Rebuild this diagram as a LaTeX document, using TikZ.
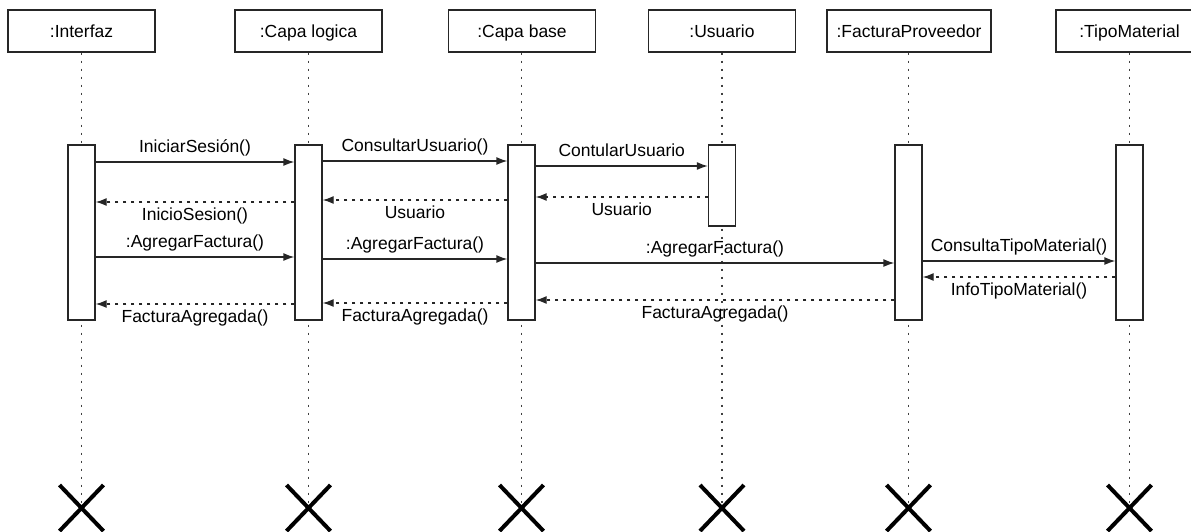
\documentclass[tikz,border=0pt]{standalone}
\usepackage{fontspec}
\setmainfont{Liberation Sans}
\usetikzlibrary{arrows.meta,shapes.misc}

\tikzset{
  every node/.style={font=\fontsize{17.5}{21}\selectfont},
  headbox/.style={draw=black!85, line width=1.3pt, fill=white, minimum width=147pt, minimum height=42pt, inner sep=0pt, text height=12.5pt, text depth=0pt},
  actbox/.style={draw=black!85, line width=1.3pt, fill=white, minimum width=27pt, inner sep=0pt},
  lifeline/.style={draw=black!75, line width=1.2pt, dash pattern=on 2pt off 6pt},
  endmark/.style={draw=black, cross out, line width=4pt, minimum width=40pt, minimum height=42pt, inner sep=0pt},
  msg/.style={draw=black!85, line width=1.3pt, -{Latex[length=11pt,width=8pt]}},
  reply/.style={draw=black!85, line width=1.3pt, dash pattern=on 3pt off 5pt, -{Latex[length=11pt,width=8pt]}},
  lbl/.style={inner sep=0pt, text height=12.5pt, text depth=0pt},
  lblup/.style={lbl, above=9pt},
  lbldown/.style={lbl, below=5pt}
}

\begin{document}
\begin{tikzpicture}[x=1pt,y=-1pt]
  \useasboundingbox (0,0) rectangle (1191,531);

  % object heads
  \node[headbox] (ih) at (81.5,31)  {:Interfaz};
  \node[headbox] (lh) at (308.5,31) {:Capa logica};
  \node[headbox] (bh) at (522,31)   {:Capa base};
  \node[headbox] (uh) at (722,31)   {:Usuario};
  \node[headbox, minimum width=164pt] (fh) at (909,31) {:FacturaProveedor};
  \node[headbox] (th) at (1129.5,31) {:TipoMaterial};

  % destruction marks
  \node[endmark] (ix) at (81.5,508)  {};
  \node[endmark] (lx) at (308.5,508) {};
  \node[endmark] (bx) at (521.5,508) {};
  \node[endmark] (ux) at (722,508)   {};
  \node[endmark] (fx) at (908.5,508) {};
  \node[endmark] (tx) at (1129.5,508) {};

  % lifelines
  \draw[lifeline] (ix.center |- ih.south) -- (ix.center);
  \draw[lifeline] (lx.center |- lh.south) -- (lx.center);
  \draw[lifeline] (bx.center |- bh.south) -- (bx.center);
  \draw[lifeline] (ux.center |- uh.south) -- (ux.center);
  \draw[lifeline] (fx.center |- fh.south) -- (fx.center);
  \draw[lifeline] (tx.center |- th.south) -- (tx.center);

  % activations
  \node[actbox, minimum height=175pt] (ia) at (81.5,232.5)  {};
  \node[actbox, minimum height=175pt] (la) at (308.5,232.5) {};
  \node[actbox, minimum height=175pt] (ba) at (521.5,232.5) {};
  \node[actbox, minimum height=81pt]  (ua) at (722,185.5)   {};
  \node[actbox, minimum height=175pt] (fa) at (908.5,232.5) {};
  \node[actbox, minimum height=175pt] (ta) at (1129.5,232.5) {};

  % login
  \draw[msg] (ia.east |- 0,162) -- node[lblup] {IniciarSesión()} (la.west |- 0,162);
  \draw[msg] (la.east |- 0,161) -- node[lblup] {ConsultarUsuario()} (ba.west |- 0,161);
  \draw[msg] (ba.east |- 0,166) -- node[lblup] {ContularUsuario} (ua.west |- 0,166);
  \draw[reply] (ua.west |- 0,197) -- node[lbldown] {Usuario} (ba.east |- 0,197);
  \draw[reply] (ba.west |- 0,200) -- node[lbldown] {Usuario} (la.east |- 0,200);
  \draw[reply] (la.west |- 0,202) -- node[lbldown] {InicioSesion()} (ia.east |- 0,202);

  % add invoice
  \draw[msg] (ia.east |- 0,257) -- node[lblup] {:AgregarFactura()} (la.west |- 0,257);
  \draw[msg] (la.east |- 0,259) -- node[lblup] {:AgregarFactura()} (ba.west |- 0,259);
  \draw[msg] (ba.east |- 0,263) -- node[lblup] {:AgregarFactura()} (fa.west |- 0,263);
  \draw[msg] (fa.east |- 0,261) -- node[lblup] {ConsultaTipoMaterial()} (ta.west |- 0,261);
  \draw[reply] (ta.west |- 0,277) -- node[lbldown] {InfoTipoMaterial()} (fa.east |- 0,277);
  \draw[reply] (fa.west |- 0,300) -- node[lbldown] {FacturaAgregada()} (ba.east |- 0,300);
  \draw[reply] (ba.west |- 0,303) -- node[lbldown] {FacturaAgregada()} (la.east |- 0,303);
  \draw[reply] (la.west |- 0,304) -- node[lbldown] {FacturaAgregada()} (ia.east |- 0,304);
\end{tikzpicture}
\end{document}
